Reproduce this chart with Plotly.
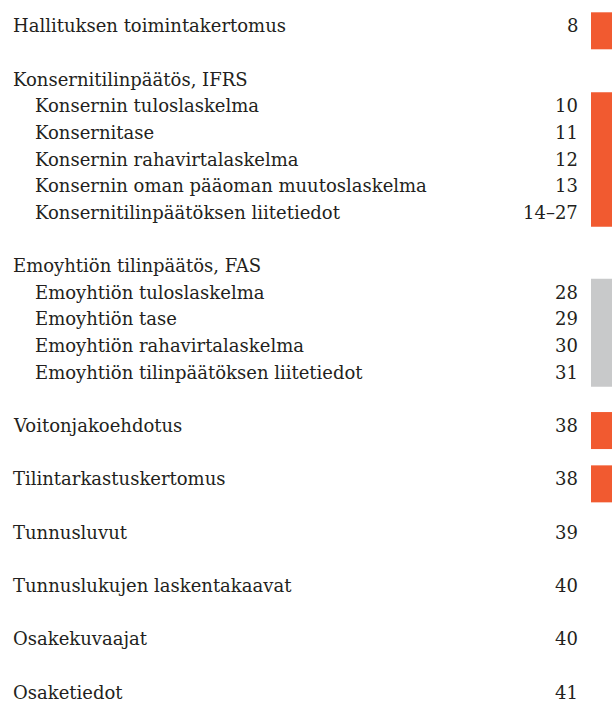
import plotly.graph_objects as go

# ---- data ----
labels = [
    "Hallituksen toimintakertomus",
    "Konsernitilinpäätös, IFRS",
    "Konsernin tuloslaskelma",
    "Konsernitase",
    "Konsernin rahavirtalaskelma",
    "Konsernin oman pääoman muutoslaskelma",
    "Konsernitilinpäätöksen liitetiedot",
    "Emoyhtiön tilinpäätös, FAS",
    "Emoyhtiön tuloslaskelma",
    "Emoyhtiön tase",
    "Emoyhtiön rahavirtalaskelma",
    "Emoyhtiön tilinpäätöksen liitetiedot",
    "Voitonjakoehdotus",
    "Tilintarkastuskertomus",
    "Tunnusluvut",
    "Tunnuslukujen laskentakaavat",
    "Osakekuvaajat",
    "Osaketiedot",
]
pages = ["8", "", "10", "11", "12", "13", "14–27", "", "28", "29", "30", "31",
         "38", "38", "39", "40", "40", "41"]
levels = [0, 0, 1, 1, 1, 1, 1, 0, 1, 1, 1, 1, 0, 0, 0, 0, 0, 0]

# section tabs: first row, last row, kind
tab_first = [0, 2, 8, 12, 13]
tab_last = [0, 6, 11, 12, 13]
tab_kind = ["konserni", "konserni", "emo", "konserni", "konserni"]

# ---- style / layout ----
W, H = 612, 701
COLORS = {"konserni": "#F15A30", "emo": "#C8C9CA"}
TEXT_COLOR = "#231F20"
FONT = "DejaVu Serif, Liberation Serif, serif"
FSIZE = 18
Y0, STEP = 25.8, 26.65
X_LEVEL = {0: 11, 1: 33}
X_PAGE = 580
TAB_X, TAB_W = 601.5, 21

# row positions
ys = []
slot = 0
for i, lv in enumerate(levels):
    if i > 0:
        slot += 1 if lv == 1 else 2
    ys.append(Y0 + STEP * slot)

fig = go.Figure()

for f, l, k in zip(tab_first, tab_last, tab_kind):
    top = ys[f] - 13.5
    bottom = max(ys[l] + 14.5, top + 37)
    fig.add_trace(go.Bar(
        x=[TAB_X], y=[bottom - top], base=[top], width=[TAB_W],
        marker=dict(color=COLORS[k], line=dict(width=0)),
        hoverinfo="skip", showlegend=False,
    ))

annotations = []
for lab, pg, lv, y in zip(labels, pages, levels, ys):
    annotations.append(dict(
        x=X_LEVEL[lv], y=y, xref="x", yref="y", text=lab, showarrow=False,
        xanchor="left", yanchor="middle",
        font=dict(family=FONT, size=FSIZE, color=TEXT_COLOR),
    ))
    if pg:
        annotations.append(dict(
            x=X_PAGE, y=y, xref="x", yref="y", text=pg, showarrow=False,
            xanchor="right", yanchor="middle",
            font=dict(family=FONT, size=FSIZE, color=TEXT_COLOR),
        ))

fig.update_layout(
    width=W, height=H,
    margin=dict(l=0, r=0, t=0, b=0),
    paper_bgcolor="white", plot_bgcolor="white",
    barmode="overlay",
    xaxis=dict(range=[0, W], visible=False, fixedrange=True),
    yaxis=dict(range=[H, 0], visible=False, fixedrange=True),
    annotations=annotations,
    showlegend=False,
)

fig.write_html("out.html", config={"displayModeBar": False},
               post_script="document.body.style.margin='0';")
